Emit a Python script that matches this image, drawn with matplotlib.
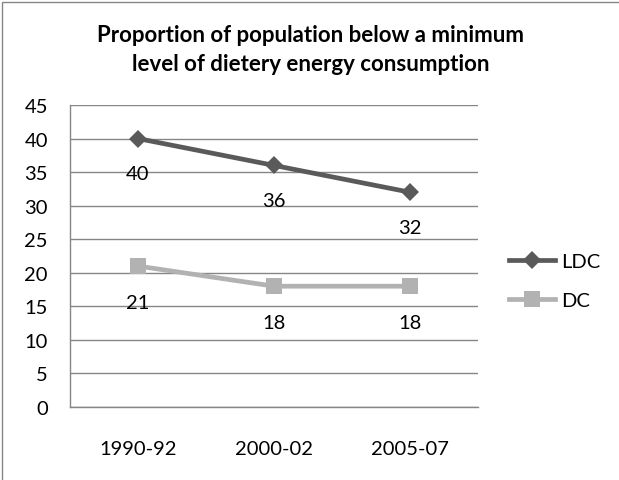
import matplotlib
matplotlib.use("Agg")
import matplotlib.pyplot as plt
from matplotlib.patches import Rectangle

categories = ["1990-92", "2000-02", "2005-07"]
ldc_values = [40, 36, 32]
dc_values = [21, 18, 18]
series_names = ["LDC", "DC"]
yticks = [0, 5, 10, 15, 20, 25, 30, 35, 40, 45]
title_lines = ["Proportion of population below a minimum",
               "level of dietery energy consumption"]

plt.rcParams['font.family'] = ['Lato', 'DejaVu Sans']

W, H = 619, 481
fig = plt.figure(figsize=(W / 100, H / 100), dpi=100)
fig.patch.set_facecolor("white")

# outer chart border (only left and top visible in the crop)
fig.add_artist(Rectangle((2 / W, -0.1), 1.2, 1 - 3 / H + 0.1, transform=fig.transFigure,
                         fill=False, edgecolor="#868686", linewidth=1.0))

ax = fig.add_axes([70 / W, 1 - 408 / H, (478 - 70) / W, (408 - 106) / H])
x = list(range(len(categories)))

ldc_color = "#5a5a5a"
dc_color = "#b2b2b2"
grid_color = "#868686"
fs = 14.5

ax.plot(x, ldc_values, color=ldc_color, linewidth=3.4, marker="D", markersize=9.5,
        markeredgewidth=0, label=series_names[0], zorder=3)
ax.plot(x, dc_values, color=dc_color, linewidth=3.4, marker="s", markersize=12,
        markeredgewidth=0, label=series_names[1], zorder=3)

for xi, v in zip(x, ldc_values):
    ax.annotate(str(v), (xi, v), xytext=(0, -35), textcoords="offset pixels",
                ha="center", va="center", fontsize=fs, color="black", zorder=4)
for xi, v in zip(x, dc_values):
    ax.annotate(str(v), (xi, v), xytext=(0, -36), textcoords="offset pixels",
                ha="center", va="center", fontsize=fs, color="black", zorder=4)

ax.set_xlim(-0.5, len(categories) - 0.5)
ax.set_ylim(0, 45)
ax.set_yticks(yticks)
ax.set_xticks(x)
ax.set_xticklabels(categories)
ax.tick_params(axis="both", length=0, labelsize=fs, colors="black")
ax.tick_params(axis="y", pad=16)
ax.tick_params(axis="x", pad=24)

ax.grid(axis="y", color=grid_color, linewidth=1.0)
ax.set_axisbelow(True)
for s in ["top", "right"]:
    ax.spines[s].set_visible(False)
for s in ["left", "bottom"]:
    ax.spines[s].set_color(grid_color)
    ax.spines[s].set_linewidth(1.0)

for i, (line, base) in enumerate(zip(title_lines, [42, 71])):
    fig.text(310.5 / W, 1 - base / H, line, ha="center", va="baseline", fontsize=16,
             fontweight="bold")

leg = fig.legend(loc="center left", bbox_to_anchor=(509 / W, 1 - 282 / H),
                 frameon=False, fontsize=fs, handlelength=2.3, handletextpad=0.3,
                 labelspacing=1.05, borderpad=0, borderaxespad=0)

fig.savefig("out.png", dpi=100)
